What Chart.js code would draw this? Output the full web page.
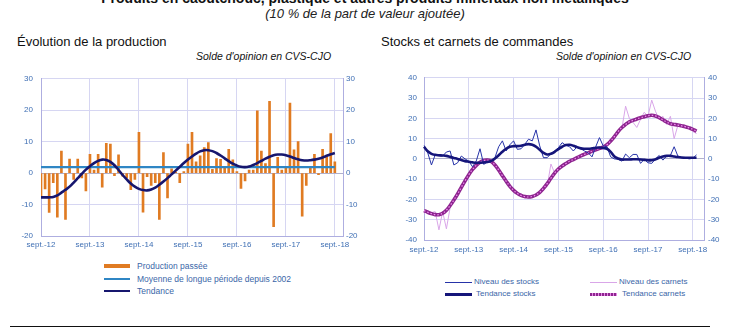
<!DOCTYPE html>
<html lang="fr">
<head>
<meta charset="utf-8">
<title>Produits en caoutchouc, plastique et autres produits minéraux non métalliques</title>
<script src="https://cdn.jsdelivr.net/npm/chart.js@4.4.1/dist/chart.umd.min.js"></script>
<style>
    body { margin: 0; background: #fff; font-family: "Liberation Sans", Arial, sans-serif; }
    #page { position: relative; width: 742px; height: 330px; overflow: hidden; background: #fff; }
    .abs { position: absolute; white-space: nowrap; }
    .leg { position: absolute; white-space: nowrap; font-size: 8.5px; line-height: 10px; color: #3a66a8; }
    .sw { position: absolute; }
    canvas { position: absolute; }
</style>
</head>
<body>
<div id="page">
    <div class="abs" style="left:0; width:730px; top:-10px; text-align:center; font-size:14px; line-height:16px; font-weight:bold; color:#111;">Produits en caoutchouc, plastique et autres produits minéraux non métalliques</div>
    <div class="abs" style="left:0; width:730px; top:6px; text-align:center; font-size:13px; line-height:15px; font-style:italic; color:#222;">(10 % de la part de valeur ajoutée)</div>

    <div class="abs" style="left:17px; top:34px; font-size:13px; line-height:16px; color:#111;">Évolution de la production</div>
    <div class="abs" style="left:196px; top:50px; font-size:10.5px; line-height:12px; font-style:italic; color:#111;">Solde d'opinion en CVS-CJO</div>

    <div class="abs" style="left:381px; top:34px; font-size:13px; line-height:16px; color:#111;">Stocks et carnets de commandes</div>
    <div class="abs" style="left:556px; top:50px; font-size:10.5px; line-height:12px; font-style:italic; color:#111;">Solde d'opinion en CVS-CJO</div>

    <canvas id="prodChart" width="360" height="188" style="left:10px; top:66px;"></canvas>
    <canvas id="stockChart" width="362" height="192" style="left:380px; top:66px;"></canvas>

    <!-- légende gauche -->
    <div class="sw" style="left:104px; top:264px; width:26px; height:4px; background:#e07b22;"></div>
    <div class="leg" style="left:137px; top:261px;">Production passée</div>
    <div class="sw" style="left:104px; top:278px; width:26px; height:2px; background:#2f86c4;"></div>
    <div class="leg" style="left:137px; top:274px;">Moyenne de longue période depuis 2002</div>
    <div class="sw" style="left:104px; top:290px; width:26px; height:2px; background:#16166e;"></div>
    <div class="leg" style="left:137px; top:286px;">Tendance</div>

    <!-- légende droite -->
    <div class="sw" style="left:445px; top:282px; width:27px; height:1px; background:#2633a8;"></div>
    <div class="leg" style="left:474px; top:277px; font-size:8px;">Niveau des stocks</div>
    <div class="sw" style="left:445px; top:293px; width:27px; height:3px; background:#15157a;"></div>
    <div class="leg" style="left:476px; top:289px; font-size:8px;">Tendance stocks</div>
    <div class="sw" style="left:590px; top:282px; width:27px; height:1px; background:#d9a6e8;"></div>
    <div class="leg" style="left:619px; top:277px; font-size:8px;">Niveau des carnets</div>
    <div class="sw" style="left:590px; top:293px; width:27px; height:3px; background:repeating-linear-gradient(90deg, #8e2590 0 2px, #e58be5 2px 3px);"></div>
    <div class="leg" style="left:622px; top:289px; font-size:8px;">Tendance carnets</div>

    <div class="sw" style="left:10px; top:326px; width:700px; height:1px; background:#111;"></div>
</div>

<script>
// ---- données ----
const anneeTicks = ['sept.-12', 'sept.-13', 'sept.-14', 'sept.-15', 'sept.-16', 'sept.-17', 'sept.-18'];
const nbMoisProd = 75;    // sept.-12 -> nov.-18 (bord droit)
const nbMoisStocks = 76;  // sept.-12 -> déc.-18

const productionPassee = [
    -7.7, -5, -12.5, -3, -14, 7, -14.7, 4.5, -2, 4.5, -1.5, -5.7,
    6, 1, 6, -4.5, 9.5, 9.2, -0.8, 5.8, -1, -1.5, -5.3, -2,
    13, -12.4, -1.1, -3.9, -3, -14.7, 6.5, -7.9, 1.4, 0.3, -3, 0.5,
    9.2, 13, 3.6, 5.5, 8.1, 9.7, 1.2, 4.6, 4.4, 1.5, 7.6, 4.2,
    0.5, -4.9, -2.5, 1, 1, 19.8, 7, 3, 22.8, -17, 5, 1,
    1.5, 22.3, 7.4, 10, -13.7, -3.9, 2, 6, -0.5, 7.6, 5.3, 12.6,
    3.6
];
const tendanceProd = [
    -7.7, -7.7, -7.7, -7.6, -7.1, -6.2, -5.3, -4.3, -3, -1.6, -0.2, 1.1,
    2.2, 3.2, 3.9, 4.3, 4.2, 3.6, 2.5, 1, -0.6, -2, -3.3, -4.3,
    -5, -5.4, -5.5, -5.2, -4.6, -3.7, -2.7, -1.6, -0.4, 0.8, 2, 3.2,
    4.3, 5.3, 6.2, 6.9, 7.3, 7.3, 7, 6.4, 5.6, 4.7, 3.8, 3,
    2.4, 2, 1.9, 2.1, 2.6, 3.2, 3.9, 4.6, 5.2, 5.7, 5.9, 5.9,
    5.7, 5.3, 4.8, 4.4, 4.1, 4, 4.1, 4.3, 4.6, 5, 5.5, 6, 6.4
];
const moyenneLongue = 1.9;

const stocksNiveau = [
    6.7, 3, -3, 2, 1.5, 1.4, 3.4, 3.9, -3, -1.9, 1.4, 0,
    -1.1, -3.9, -1, 5, -2.7, -1.5, -1.5, 0.6, 6, 8.9, 3.9, 7,
    8.9, 4.7, 5, 7.2, 9.7, 8.9, 14.3, 6.4, 0.6, 0.6, 2.6, 3.9,
    5.5, 8, 6.7, 6, 3.9, 6, 5, 3.9, 3, 1, 6, 10.5,
    6.4, 6, 1, 0, -0.2, -1.1, 2.4, 0.6, 2.2, 2.2, -2.2, -0.2,
    -1.9, -2.2, 0, 1.7, -0.6, 1.4, 1.7, 6, 1.4, 0.6, 0.6, 0,
    0.3, 2
];
const stocksTendance = [
    6, 3.8, 2.5, 2, 1.8, 1.7, 1.5, 1, 0.5, 0, -0.6, -1.1,
    -1.4, -1.7, -1.9, -1.9, -1.8, -1.5, -1, 0.2, 1.8, 3.5, 5, 6,
    6.3, 6.3, 6.5, 7, 7.3, 7, 6, 4.5, 3, 2.2, 2.5, 3.5,
    4.8, 6, 6.8, 7, 6.5, 5.8, 5.2, 5, 5, 5.2, 5.5, 5.6,
    5.4, 5, 3.5, 1.2, 0.2, -0.3, -0.3, -0.3, -0.2, -0.2, -0.3, -0.5,
    -0.7, -0.7, -0.2, 0.6, 1.2, 1.5, 1.5, 1.2, 0.9, 0.7, 0.6, 0.6,
    0.6, 0.6
];
const carnetsNiveau = [
    -27, -25.5, -26.5, -26, -35, -26, -34.5, -24, -19, -17.5, -13.5, -11.5,
    -7, -5.5, -2.5, -2, 0, -1.5, -0.5, -3.5, -5, -9, -10.5, -14,
    -15, -17.5, -17, -19.5, -18, -19, -17.5, -17, -15.5, -13.5, -2.5, -7,
    -4.5, -4, -2, -1.5, 0, 0.5, 2, 2, 3.5, 3, 5, 4.5,
    6.5, 6.5, 9.5, 10.5, 14, 15, 26, 20, 18, 15.5, 19.5, 23,
    21, 29, 23.5, 19.5, 21, 17, 21, 10, 16.5, 16.5, 15.5, 15.5,
    13.5, 12.5
];
const carnetsTendance = [
    -25.5, -26.3, -27, -27.5, -27.5, -26.8, -25.3, -23, -20.3, -17.3, -14, -10.8,
    -7.8, -5.2, -3.2, -1.7, -0.8, -0.6, -1.3, -3, -5.5, -8.3, -11, -13.5,
    -15.5, -17, -18, -18.6, -18.8, -18.5, -17.8, -16.5, -14.5, -12.2, -9.5, -7,
    -5, -3.5, -2.3, -1.2, -0.3, 0.6, 1.5, 2.3, 3, 3.8, 4.5, 5.2,
    5.8, 7, 8.8, 11, 13.5, 15.5, 17, 18.3, 19, 19.7, 20.3, 20.8,
    21.3, 21.5, 21.2, 20.4, 19.3, 18.2, 17.3, 17, 16.7, 16.3, 15.9, 15.3,
    14.6, 13.7
];

// ---- styles ----
const GRID = '#d6d6f2';
const ZERO = '#b0b0cc';
const BORD = '#aeaee0';
const TICK = '#3f6fb4';
const tickFont = { family: '"Liberation Sans", Arial, sans-serif', size: 8 };

// une étiquette par année (septembre), vide pour les autres mois
function moisLabels(n) {
    return Array.from({ length: n }, (_, i) => i % 12 === 0 ? (anneeTicks[i / 12] || '') : '');
}

function xAxis(height, pad) {
    return {
        type: 'category',
        offset: false,
        grid: {
            offset: false,
            drawTicks: false,
            color: ctx => ctx.index % 12 === 0 ? GRID : 'rgba(0,0,0,0)'
        },
        border: { color: BORD },
        ticks: { autoSkip: false, maxRotation: 0, color: TICK, font: tickFont, padding: pad },
        afterFit: s => { s.height = height; }
    };
}

function yAxis(min, max, pos, width, pad, onChart) {
    return {
        position: pos,
        min: min,
        max: max,
        grid: {
            drawTicks: false,
            drawOnChartArea: onChart,
            color: ctx => ctx.tick && ctx.tick.value === 0 ? ZERO : GRID
        },
        border: { color: BORD },
        ticks: { stepSize: 10, color: TICK, font: tickFont, padding: pad },
        afterFit: s => { s.width = width; }
    };
}

const baseOptions = {
    responsive: false,
    animation: false,
    plugins: { legend: { display: false }, tooltip: { enabled: false } },
    elements: { point: { radius: 0 } },
    layout: { padding: { top: 7, left: 0, right: 0, bottom: 0 } }
};

// ---- Évolution de la production ----
new Chart(document.getElementById('prodChart'), {
    type: 'bar',
    data: {
        labels: moisLabels(nbMoisProd),
        datasets: [
            {
                type: 'line',
                label: 'Tendance',
                data: tendanceProd,
                borderColor: '#16166e',
                borderWidth: 2.6,
                tension: 0.4,
                fill: false
            },
            {
                type: 'line',
                label: 'Moyenne de longue période depuis 2002',
                data: new Array(productionPassee.length).fill(moyenneLongue),
                borderColor: '#2f86c4',
                borderWidth: 2.2,
                tension: 0,
                fill: false
            },
            {
                type: 'bar',
                label: 'Production passée',
                data: productionPassee,
                backgroundColor: '#e07b22',
                barThickness: 2
            }
        ]
    },
    options: {
        ...baseOptions,
        scales: {
            x: xAxis(18, 4),
            y: yAxis(-20, 30, 'left', 31, 8, true),
            y2: yAxis(-20, 30, 'right', 27, 3, false)
        }
    }
});

// ---- Stocks et carnets de commandes ----
new Chart(document.getElementById('stockChart'), {
    type: 'line',
    data: {
        labels: moisLabels(nbMoisStocks),
        datasets: [
            {
                label: 'Tendance stocks',
                data: stocksTendance,
                borderColor: '#15157a',
                borderWidth: 2.6,
                tension: 0.4
            },
            {
                label: 'Niveau des stocks',
                data: stocksNiveau,
                borderColor: '#2633a8',
                borderWidth: 1,
                tension: 0
            },
            {
                label: 'Tendance carnets (points)',
                data: carnetsTendance,
                borderColor: '#ee90ee',
                borderWidth: 1.2,
                borderDash: [1.5, 2],
                tension: 0.4
            },
            {
                label: 'Tendance carnets',
                data: carnetsTendance,
                borderColor: '#8e2590',
                borderWidth: 3.6,
                tension: 0.4
            },
            {
                label: 'Niveau des carnets',
                data: carnetsNiveau,
                borderColor: '#d9a6e8',
                borderWidth: 1,
                tension: 0
            }
        ]
    },
    options: {
        ...baseOptions,
        scales: {
            x: xAxis(18, 5),
            y: yAxis(-40, 40, 'left', 44, 7, true),
            y2: yAxis(-40, 40, 'right', 38, 4, false)
        }
    }
});
</script>
</body>
</html>
